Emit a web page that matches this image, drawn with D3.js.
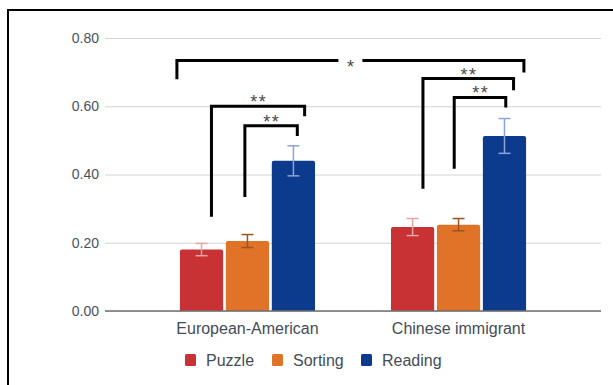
<!DOCTYPE html>
<html>
<head>
<meta charset="utf-8">
<script src="https://cdn.jsdelivr.net/npm/d3@7"></script>
<style>
  html, body { margin: 0; padding: 0; background: #fff; }
  svg { display: block; font-family: Arial, "Liberation Sans", sans-serif; }
</style>
</head>
<body>
<svg id="chart" width="613" height="385"></svg>
<script>
// Groups, conditions and their mean proportions with error margins
const groups = ["European-American", "Chinese immigrant"];
const conditions = ["Puzzle", "Sorting", "Reading"];
const colors = ["#c93234", "#e07328", "#0c3a8c"];
const errColors = ["#eaa4a4", "#9a5420", "#8ea3d6"];
const meansEA = [0.180, 0.205, 0.440];
const meansCI = [0.246, 0.253, 0.513];
const errEA = [0.018, 0.019, 0.044];
const errCI = [0.025, 0.018, 0.051];
const yTicks = [0, 0.2, 0.4, 0.6, 0.8];

// Significance brackets: ends anchor on a bar (group, condition, fraction across the bar)
const brackets = [
  { a: [0, 0, 0.73], b: [0, 2, 0.76], level: 0.600, legA: 0.276, legB: 0.571, label: "**" },
  { a: [0, 1, 0.44], b: [0, 2, 0.59], level: 0.543, legA: 0.334, legB: 0.513, label: "**" },
  { a: [1, 0, 0.74], b: [1, 2, 0.71], level: 0.681, legA: 0.358, legB: 0.647, label: "**" },
  { a: [1, 1, 0.40], b: [1, 2, 0.53], level: 0.626, legA: 0.417, legB: 0.596, label: "**" },
  { a: [0, 0, -0.07], b: [1, 2, 0.95], level: 0.734, legA: 0.679, legB: 0.699, label: "*", inline: true }
];

const means = [meansEA, meansCI];
const errs = [errEA, errCI];
const rows = [];
groups.forEach((g, gi) => conditions.forEach((c, ci) => {
  rows.push({ group: g, cond: c, ci, value: means[gi][ci], err: errs[gi][ci] });
}));

const svg = d3.select("#chart");
const plot = { left: 105, right: 601, top: 38, bottom: 311 };

const y = d3.scaleLinear().domain([0, 0.8]).range([plot.bottom, plot.top]);
const x0 = d3.scaleBand().domain(groups).range([plot.left, plot.right])
  .paddingInner(0.36).paddingOuter(0.355);
const x1 = d3.scaleBand().domain(conditions).range([0, x0.bandwidth()]).paddingInner(0.06);

// Outer frame
svg.append("rect")
  .attr("x", 8).attr("y", 10).attr("width", 640).attr("height", 420)
  .attr("fill", "none").attr("stroke", "#000").attr("stroke-width", 2);

// Gridlines and y-axis labels
const yAxis = d3.axisLeft(y).tickValues(yTicks).tickFormat(d3.format(".2f"))
  .tickSize(-(plot.right - plot.left)).tickPadding(6);
const gy = svg.append("g").attr("transform", `translate(${plot.left},0)`).call(yAxis);
gy.select(".domain").remove();
gy.selectAll(".tick line").attr("stroke", "#d4d4d4").attr("stroke-width", 1);
gy.selectAll(".tick text").attr("fill", "#4a5260").attr("font-size", 14);

// Bars
const bars = svg.append("g");
bars.selectAll("path.bar").data(rows).join("path")
  .attr("class", "bar")
  .attr("fill", d => colors[d.ci])
  .attr("d", d => {
    const bx = x0(d.group) + x1(d.cond), bw = x1.bandwidth();
    const top = y(d.value), bot = y(0), r = 2;
    return `M${bx},${bot}V${top + r}Q${bx},${top} ${bx + r},${top}H${bx + bw - r}Q${bx + bw},${top} ${bx + bw},${top + r}V${bot}Z`;
  });

// Error bars
const eb = svg.append("g");
rows.forEach(d => {
  const cx = x0(d.group) + x1(d.cond) + x1.bandwidth() / 2;
  const g = eb.append("g").attr("stroke", errColors[d.ci]).attr("stroke-width", 1.5);
  g.append("line").attr("x1", cx).attr("x2", cx).attr("y1", y(d.value + d.err)).attr("y2", y(d.value - d.err));
  [d.value + d.err, d.value - d.err].forEach(v => {
    g.append("line").attr("x1", cx - 6).attr("x2", cx + 6).attr("y1", y(v)).attr("y2", y(v));
  });
});

// Baseline
svg.append("line")
  .attr("x1", plot.left).attr("x2", plot.right).attr("y1", y(0)).attr("y2", y(0))
  .attr("stroke", "#707070").attr("stroke-width", 1.5);

// Category labels
svg.append("g").selectAll("text").data(groups).join("text")
  .attr("x", d => x0(d) + x0.bandwidth() / 2)
  .attr("y", 334)
  .attr("text-anchor", "middle")
  .attr("font-size", 16)
  .attr("fill", "#444c58")
  .text(d => d);

// Significance brackets
const anchorX = ([gi, ci, f]) => x0(groups[gi]) + x1(conditions[ci]) + f * x1.bandwidth();
const br = svg.append("g");
brackets.forEach(b => {
  const xa = anchorX(b.a), xb = anchorX(b.b), yl = y(b.level);
  const xm = (xa + xb) / 2;
  const gap = 12;
  const line = g => g.attr("fill", "none").attr("stroke", "#000").attr("stroke-width", 3)
    .attr("stroke-linejoin", "miter").attr("stroke-linecap", "butt");
  if (b.inline) {
    br.append("path").call(line).attr("d", `M${xa},${y(b.legA)}V${yl}H${xm - gap}`);
    br.append("path").call(line).attr("d", `M${xm + gap},${yl}H${xb}V${y(b.legB)}`);
  } else {
    br.append("path").call(line).attr("d", `M${xa},${y(b.legA)}V${yl}H${xb}V${y(b.legB)}`);
  }
  br.append("text")
    .attr("x", xm)
    .attr("dx", 0.75)
    .attr("y", b.inline ? yl + 12 : yl + 2)
    .attr("text-anchor", "middle")
    .attr("font-size", 18)
    .attr("letter-spacing", 1.5)
    .attr("fill", "#4a4a4a")
    .text(b.label);
});

// Legend
const legend = svg.append("g").attr("transform", "translate(185,354)");
const legendX = [0, 87, 176];
conditions.forEach((c, i) => {
  const g = legend.append("g").attr("transform", `translate(${legendX[i]},0)`);
  g.append("rect").attr("width", 11).attr("height", 12).attr("rx", 1.5).attr("fill", colors[i]);
  g.append("text").attr("x", 21).attr("y", 12).attr("font-size", 16).attr("fill", "#444c58").text(c);
});
</script>
</body>
</html>
